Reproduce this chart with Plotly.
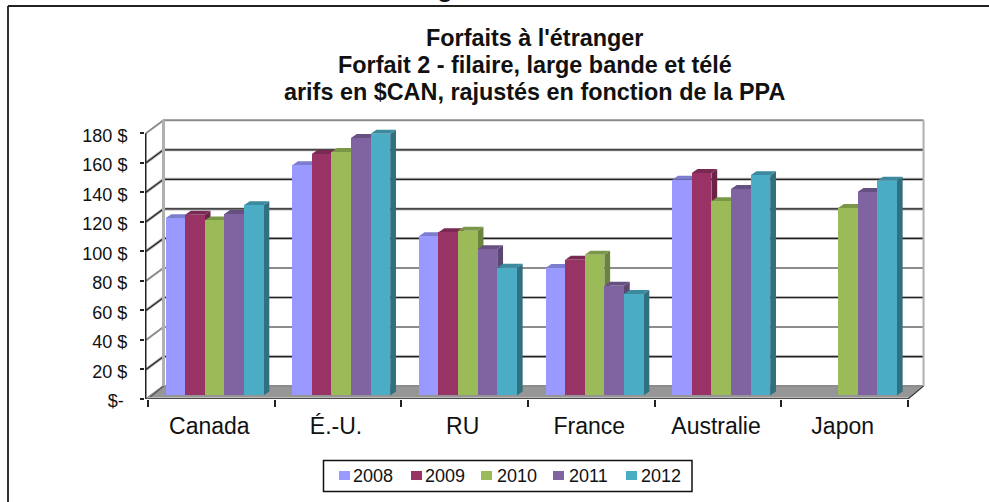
import plotly.graph_objects as go

categories = ["Canada", "É.-U.", "RU", "France", "Australie", "Japon"]
years = ["2008", "2009", "2010", "2011", "2012"]
v2008 = [120.0, 155.8, 107.7, 86.3, 146.0, None]
v2009 = [122.4, 163.5, 110.4, 91.9, 150.6, None]
v2010 = [118.5, 164.8, 111.5, 95.3, 131.4, 126.9]
v2011 = [122.8, 174.3, 99.0, 74.3, 139.8, 137.7]
v2012 = [128.7, 177.2, 86.5, 68.6, 149.0, 145.3]
series = [v2008, v2009, v2010, v2011, v2012]
y_ticks = [0, 20, 40, 60, 80, 100, 120, 140, 160, 180]
y_labels = ["$-\u2009", "20 $", "40 $", "60 $", "80 $", "100 $", "120 $", "140 $", "160 $", "180 $"]
dark_grid = [20, 60, 100, 120, 140, 160]
grey_grid = [0, 40, 80, 180]
title_lines = ["Forfaits à l'étranger", "Forfait 2 - filaire, large bande et télé",
               "arifs en $CAN, rajustés en fonction de la PPA"]

face = ["#9999FF", "#993366", "#9BBB59", "#8064A2", "#4BACC6"]
side = ["#6B6BB3", "#6B2347", "#6C833E", "#5A4671", "#31707F"]
top = ["#7D7DD0", "#7A2952", "#7C9647", "#665082", "#3B8A9F"]

# geometry of the pseudo-3D box
PX_CAT = 126.67
PX_Y = 1.4767
X0, W = 145, 790
Y_BOTTOM, H = 399, 284
xr = [-0.5 - 3 / PX_CAT, -0.5 + (W - 3) / PX_CAT]
yr = [0, H / PX_Y]
BAR_W = 19.6 / PX_CAT
BAR_OFF = -45.83 / PX_CAT
BAR_BASE = 2.44
DX = 5.8 / PX_CAT
DY = 4 / PX_Y
WALL_DX = 15.5 / PX_CAT
WALL_DY = 12.9 / PX_Y
L, R = -0.5, 5.5


def px(p):
    return (p - X0) / W


def py(p):
    return (Y_BOTTOM - p) / H


fig = go.Figure()


def line(xs, ys, color, width):
    fig.add_trace(go.Scatter(x=xs, y=ys, mode="lines", line=dict(color=color, width=width),
                             hoverinfo="skip", showlegend=False, xaxis="x", yaxis="y"))


def poly(xs, ys, color):
    fig.add_trace(go.Scatter(x=xs, y=ys, mode="lines", fill="toself", fillcolor=color,
                             line=dict(width=0, color=color), hoverinfo="skip",
                             showlegend=False, xaxis="x", yaxis="y"))


# floor
poly([L, R, R + WALL_DX, L + WALL_DX, L], [0, 0, WALL_DY, WALL_DY, 0], "#969696")

# grid on the walls
for v in grey_grid:
    line([L - 2 / PX_CAT, L + WALL_DX, R + WALL_DX], [v, v + WALL_DY, v + WALL_DY], "#8c8c8c", 2)
for v in dark_grid:
    line([L - 2 / PX_CAT, L + WALL_DX, R + WALL_DX], [v, v + WALL_DY, v + WALL_DY], "#b5b5b5", 3)
    line([L - 2 / PX_CAT, L + WALL_DX, R + WALL_DX], [v, v + WALL_DY, v + WALL_DY], "#222222", 1.2)
line([L + WALL_DX] * 2, [WALL_DY, 180 + WALL_DY], "#b0b0b0", 3)
line([R + WALL_DX] * 2, [WALL_DY, 180 + WALL_DY], "#b0b0b0", 2)
line([R, R + WALL_DX], [0, WALL_DY], "#333333", 1.2)
line([L, L + WALL_DX], [0, WALL_DY], "#555555", 1.2)

# depth faces of the bars, computed from the values
for s, vals in enumerate(series):
    sx, sy, tx, ty = [], [], [], []
    for c, v in enumerate(vals):
        if v is None:
            continue
        x0 = c + BAR_OFF + s * BAR_W
        x1 = x0 + BAR_W
        h = v + BAR_BASE
        sx += [x1, x1 + DX, x1 + DX, x1, x1, None]
        sy += [BAR_BASE, BAR_BASE + DY, h + DY, h, BAR_BASE, None]
        tx += [x0, x1, x1 + DX, x0 + DX, x0, None]
        ty += [h, h, h + DY, h + DY, h, None]
    poly(sx, sy, side[s])
    poly(tx, ty, top[s])

# front axis lines
line([L - 2.5 / PX_CAT] * 2, [0, 180], "#222222", 2)
line([L, R], [0, 0], "#bdbdbd", 4)
line([L, R], [0, 0], "#222222", 1.5)

# bars
for s, vals in enumerate(series):
    fig.add_trace(go.Bar(name=years[s], x=categories, y=vals, base=BAR_BASE,
                         width=BAR_W, offset=BAR_OFF + s * BAR_W,
                         marker=dict(color=face[s], line=dict(width=0)),
                         showlegend=False, xaxis="x2", yaxis="y"))

shapes = [
    dict(type="line", xref="paper", yref="paper", x0=px(8), x1=px(8), y0=py(6), y1=py(510),
         line=dict(color="#333333", width=2)),
    dict(type="line", xref="paper", yref="paper", x0=px(8), x1=px(995), y0=py(6), y1=py(6),
         line=dict(color="#222222", width=2)),
    dict(type="rect", xref="paper", yref="paper", x0=px(323.5), x1=px(692), y0=py(460.5), y1=py(491.5),
         line=dict(color="#111111", width=1.5), fillcolor="white"),
]
annotations = [
    dict(text="g", xref="paper", yref="paper", x=px(445), y=py(0), xanchor="center", yanchor="bottom",
         showarrow=False, yshift=-5, font=dict(size=26, color="#111111", weight="bold")),
]
for line_text, yc in zip(title_lines, [38, 65, 92]):
    annotations.append(dict(text=line_text, xref="paper", yref="paper", x=px(534.5), y=py(yc),
                            xanchor="center", yanchor="middle", showarrow=False,
                            font=dict(size=23.4, color="#111111", weight="bold")))
swatch_x = [339, 411, 481, 553, 626]
text_x = [352, 424, 496, 568, 640]
for s, year in enumerate(years):
    shapes.append(dict(type="rect", xref="paper", yref="paper", x0=px(swatch_x[s]), x1=px(swatch_x[s] + 11),
                       y0=py(471), y1=py(480), line=dict(width=0), fillcolor=face[s]))
    annotations.append(dict(text=year, xref="paper", yref="paper", x=px(text_x[s]), y=py(476),
                            xanchor="left", yanchor="middle", showarrow=False, font=dict(size=18),
                            xshift=-1))

fig.update_layout(
    width=989, height=502, autosize=False,
    margin=dict(l=X0, r=989 - X0 - W, t=Y_BOTTOM - H, b=502 - Y_BOTTOM, pad=0, autoexpand=False),
    paper_bgcolor="white", plot_bgcolor="white",
    font=dict(family="Liberation Sans, Arial, sans-serif", color="#111111", size=18),
    barmode="overlay", bargap=0, showlegend=False,
    xaxis=dict(range=xr, visible=False, fixedrange=True),
    xaxis2=dict(overlaying="x", anchor="y", side="bottom", type="category",
                categoryorder="array", categoryarray=categories, range=xr,
                showgrid=False, showline=False, zeroline=False, tickson="boundaries",
                ticks="outside", ticklen=7, tickwidth=1.5, tickcolor="#222222",
                tickfont=dict(size=23), ticklabelstandoff=11, ticklabelshift=-2, fixedrange=True),
    yaxis=dict(range=yr, tickmode="array", tickvals=y_ticks, ticktext=y_labels,
               showgrid=False, showline=False, zeroline=False, ticks="outside", ticklen=4,
               tickwidth=1.5, tickcolor="#222222", ticklabelstandoff=9, ticklabelshift=2,
               tickfont=dict(size=18), fixedrange=True),
    shapes=shapes,
    annotations=annotations,
)

fig.write_html("out.html", config=dict(displayModeBar=False),
               post_script="document.body.style.margin='0';")
